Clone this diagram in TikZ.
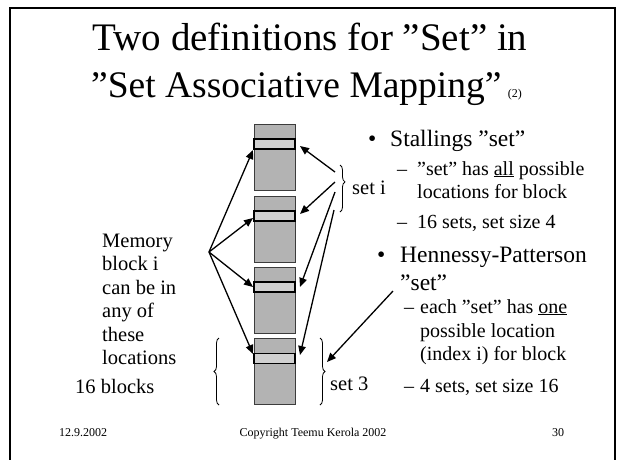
\documentclass[tikz,border=0pt]{standalone}
\usepackage{fontspec}
\setmainfont{Liberation Serif}
\usetikzlibrary{arrows.meta,decorations.pathreplacing}
\definecolor{blockdark}{RGB}{179,179,179}
\definecolor{blocklight}{RGB}{208,208,208}
\definecolor{blockedge}{RGB}{60,60,60}
\tikzset{
  title/.style={font=\fontsize{39}{42}\selectfont, inner sep=0, anchor=base},
  titletwo/.style={font=\fontsize{37.5}{40}\selectfont, inner sep=0, anchor=base west},
  lvlone/.style={font=\fontsize{23.5}{26}\selectfont, inner sep=0, anchor=base west},
  lvltwo/.style={font=\fontsize{20}{24}\selectfont, inner sep=0, anchor=base west},
  sidetxt/.style={font=\fontsize{20.5}{24}\selectfont, inner sep=0, anchor=base west},
  foot/.style={font=\fontsize{12}{14}\selectfont, inner sep=0, anchor=base},
  memblock/.style={draw=blockedge, line width=1pt, fill=blockdark, outer sep=0,
    minimum width=41pt, minimum height=66pt, inner sep=0},
  stripe/.style={fill=blocklight, draw=black, line width=1.2pt},
  arr/.style={line width=1.3pt, -{Triangle[length=9pt,width=7.5pt]}},
  curly/.style={decorate, line width=0.8pt},
}
\begin{document}
\begin{tikzpicture}[x=1pt, y=-1pt]
\useasboundingbox (0,0) rectangle (618,459);
\fill[white] (0,0) rectangle (618,459);
% slide frame (open at the bottom edge)
\draw[line width=2pt] (10,462) -- (10,8) -- (615,8) -- (615,462);

% title
\node[title] (t1) at (310,50) {Two definitions for ”Set” in};
\node[titletwo] (t2) at (91,97) {”Set Associative Mapping”};
\node[font=\fontsize{12}{14}\selectfont, inner sep=0, anchor=base west] (t3) at (t2.base east) [xshift=6pt] {(2)};

% memory blocks
\node[memblock] (b1) at (274.5,157) {};
\node[memblock] (b2) at (274.5,229) {};
\node[memblock] (b3) at (274.5,300) {};
\node[memblock] (b4) at (274.5,371.5) {};
\foreach \b in {b1,b2,b3,b4}{
  \draw[stripe] ([yshift=-15pt]\b.north west) rectangle ([yshift=-25pt]\b.north east);
}

% text on the left
\node[sidetxt] (m1) at (102,247) {Memory};
\node[sidetxt] (m2) at (102,270.5) {block i};
\node[sidetxt] (m3) at (102,294) {can be in};
\node[sidetxt] (m4) at (102,317.5) {any of};
\node[sidetxt] (m5) at (102,341) {these};
\node[sidetxt] (m6) at (102,364.5) {locations};
\node[sidetxt] (sb) at (75,393) {16 blocks};

% arrows from the left hub to every block
\coordinate (hub) at (209,252);
\coordinate (l1) at (253,150);
\coordinate (l2) at (253,218);
\coordinate (l3) at (253,287);
\coordinate (l4) at (253,354);
\foreach \t in {l1,l2,l3,l4}{ \draw[arr] (hub) -- (\t); }

% braces
\draw[curly, decoration={brace, amplitude=5pt, aspect=0.36}] (340,165) -- (340,212);
\draw[curly, decoration={brace, amplitude=5pt}] (320,338) -- (320,405);
\draw[curly, decoration={brace, amplitude=5pt}] (219,405) -- (219,338);
\node[sidetxt] (seti) at (352,194) {set i};
\node[sidetxt] (set3) at (330,390) {set 3};

% arrows from "set i" into the blocks
\coordinate (s1) at (335,172);
\coordinate (s2) at (335,182);
\coordinate (s3) at (335,192);
\coordinate (s4) at (334,210);
\coordinate (r1) at (300,146);
\coordinate (r2) at (300,214);
\coordinate (r3) at (300,287);
\coordinate (r4) at (300,355);
\draw[arr] (s1) -- (r1);
\draw[arr] (s2) -- (r2);
\draw[arr] (s3) -- (r3);
\draw[arr] (s4) -- (r4);

% bullet list on the right
\node[lvlone] (bu1) at (368,146) {•};
\node[lvlone] (st) at (390,146) {Stallings ”set”};
\node[lvltwo] (d1) at (397,175) {–};
\node[lvltwo] (st1) at (417,175) {”set” has \underline{all} possible};
\node[lvltwo] (st1b) at (417,198) {locations for block};
\node[lvltwo] (d2) at (397,228) {–};
\node[lvltwo] (st2) at (417,228) {16 sets, set size 4};
\node[lvlone] (bu2) at (377,262) {•};
\node[lvlone] (hp) at (400,262) {Hennessy-Patterson};
\node[lvlone] (hpb) at (400,290) {”set”};
\node[lvltwo] (d3) at (404,313) {–};
\node[lvltwo] (hp1) at (420,313) {each ”set” has \underline{one}};
\node[lvltwo] (hp1b) at (420,337) {possible location};
\node[lvltwo] (hp1c) at (420,360) {(index i) for block};
\node[lvltwo] (d4) at (404,392) {–};
\node[lvltwo] (hp2) at (420,392) {4 sets, set size 16};

% arrow from the Hennessy-Patterson item to "set 3"
\coordinate (hpa) at (393,291);
\coordinate (hpt) at (327,362);
\draw[arr] (hpa) -- (hpt);

% footer
\node[foot] (f1) at (83,436) {12.9.2002};
\node[foot] (f2) at (313,436) {Copyright Teemu Kerola 2002};
\node[foot] (f3) at (558,436) {30};
\end{tikzpicture}
\end{document}
